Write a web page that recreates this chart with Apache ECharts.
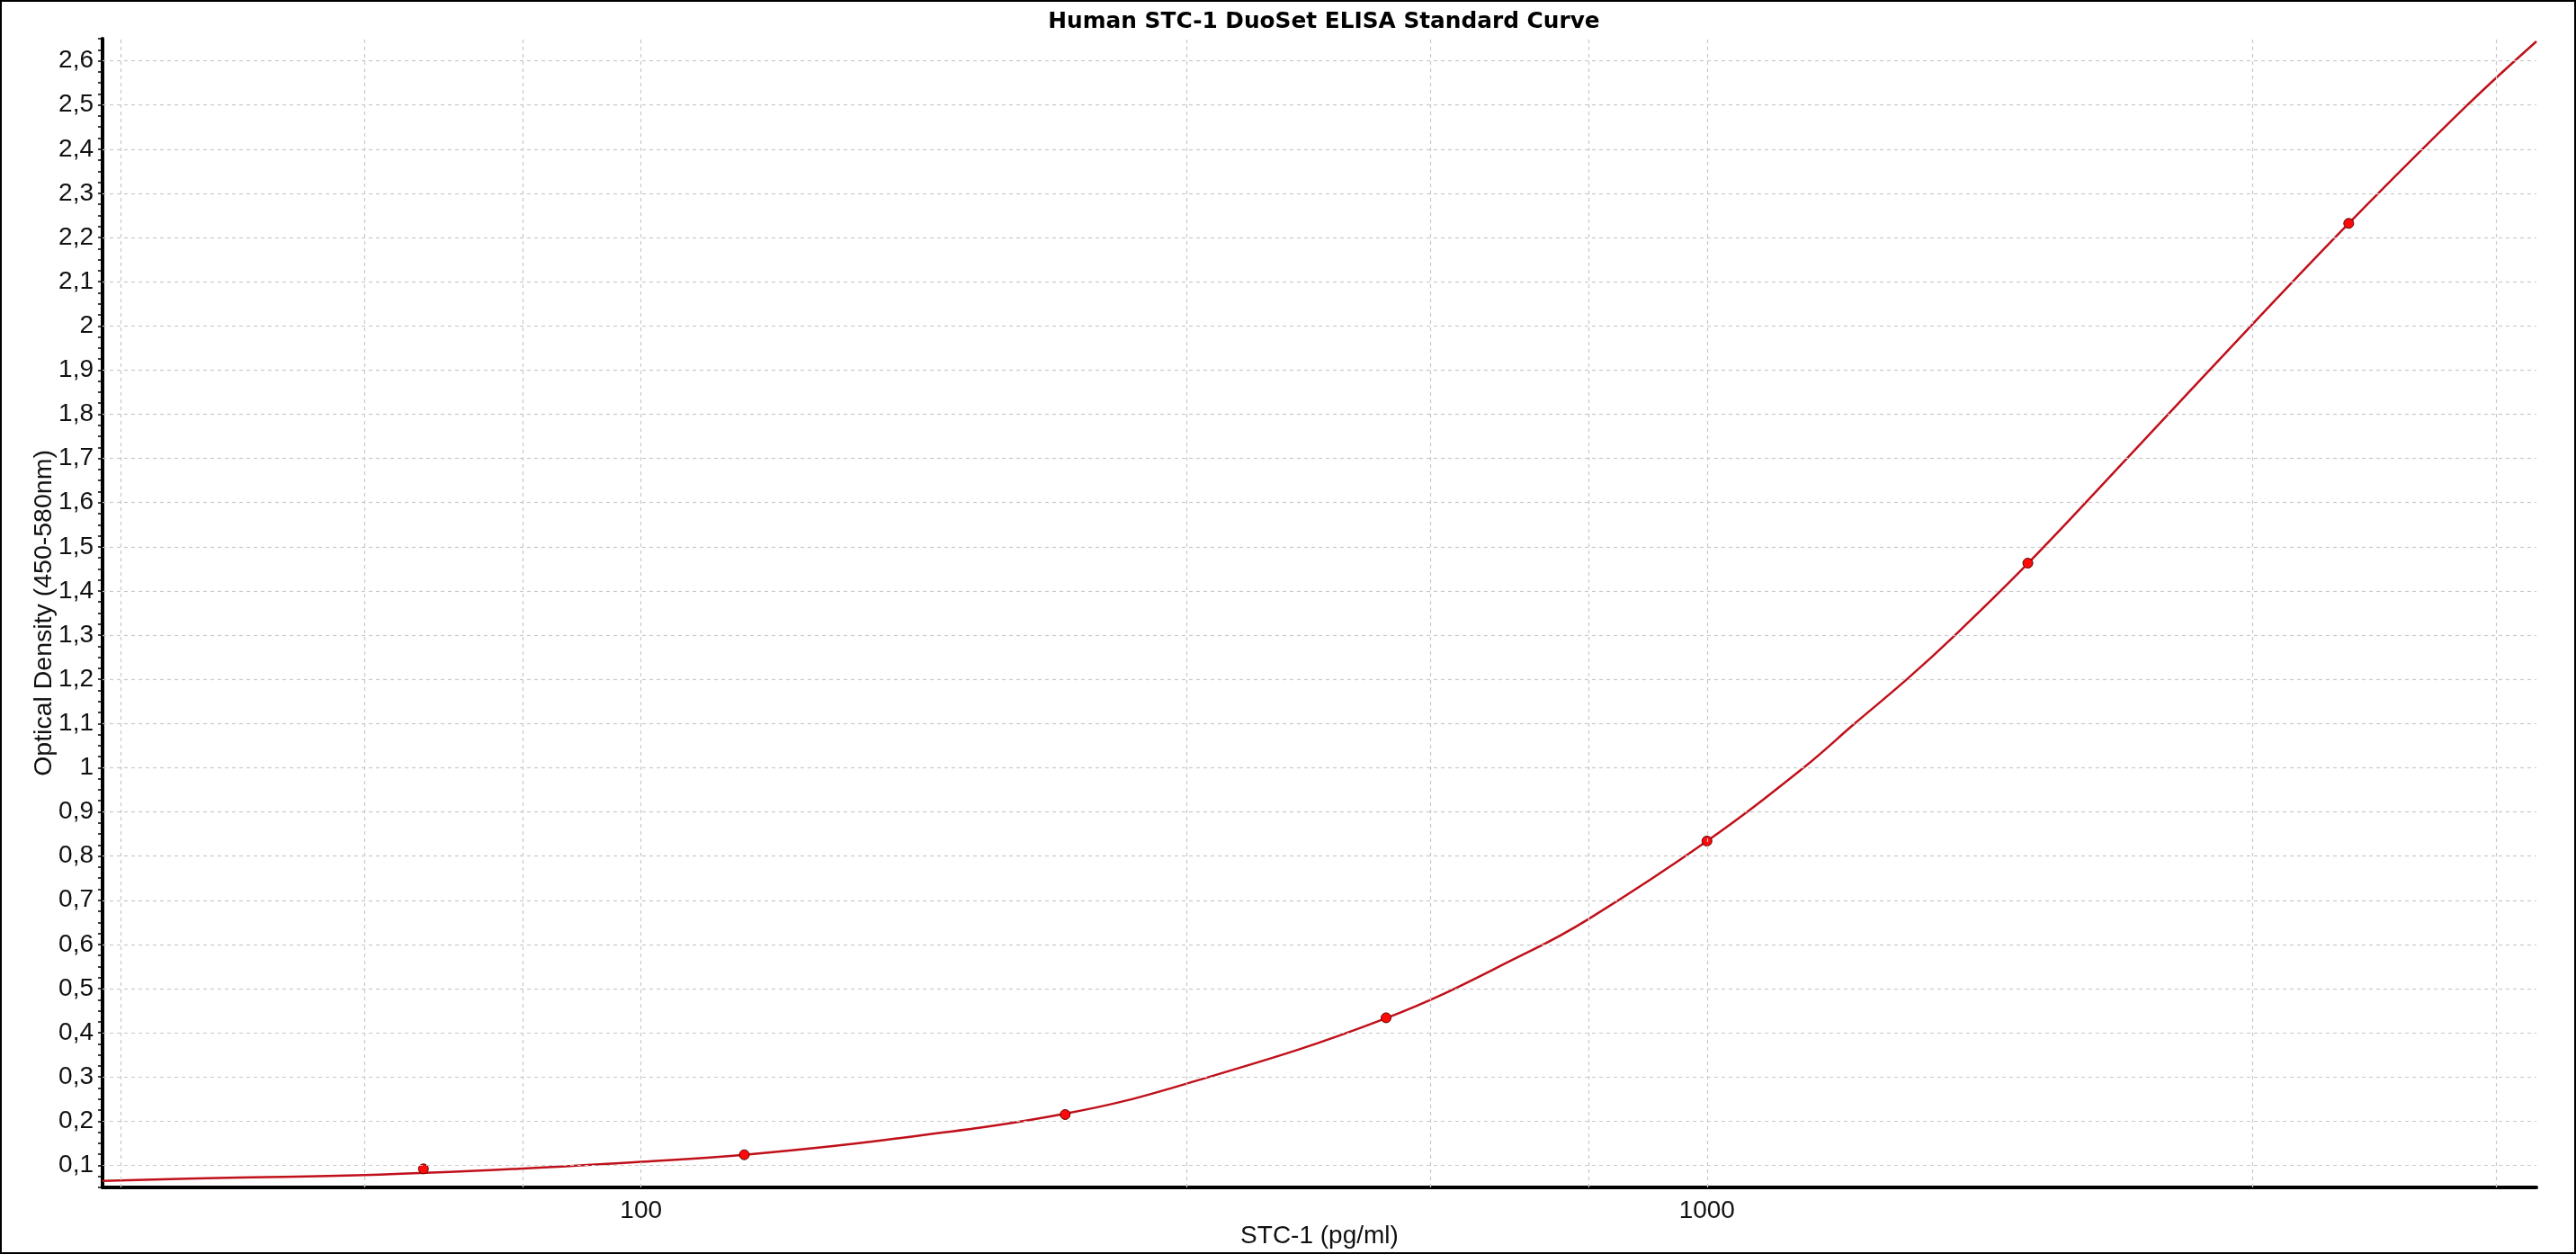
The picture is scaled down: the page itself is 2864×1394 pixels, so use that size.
<!DOCTYPE html>
<html>
<head>
<meta charset="utf-8">
<title>Human STC-1 DuoSet ELISA Standard Curve</title>
<script src="https://cdn.jsdelivr.net/npm/echarts@6/dist/echarts.min.js"></script>
<style>
  html, body { margin: 0; padding: 0; background: #fff; }
  #main { width: 2864px; height: 1394px; }
</style>
</head>
<body>
<div id="main"></div>
<script>
// standards (pg/ml) and measured OD
var stdConc = [62.5, 125, 250, 500, 1000, 2000, 4000];
var stdOD = [0.092, 0.124, 0.215, 0.434, 0.834, 1.463, 2.232];

// fitted curve
var fitConc = [31.25, 41, 55, 77.5, 100, 125, 170, 250, 325, 500, 681.5, 775, 1000, 1232, 1376, 1540, 1709, 2000, 2500, 3250, 4000, 5164, 6000];
var fitOD = [0.065, 0.072, 0.078, 0.093, 0.108, 0.124, 0.158, 0.217, 0.285, 0.433, 0.584, 0.658, 0.834, 1.0, 1.1, 1.2, 1.3, 1.462, 1.71, 2.004, 2.232, 2.499, 2.644];

// grid lines
var yGrid = [0.1, 0.2, 0.3, 0.4, 0.5, 0.6, 0.7, 0.8, 0.9, 1, 1.1, 1.2, 1.3, 1.4, 1.5, 1.6, 1.7, 1.8, 1.9, 2, 2.1, 2.2, 2.3, 2.4, 2.5, 2.6];
var xGrid = [32.5, 55, 77.5, 100, 325, 550, 775, 1000, 3250, 5500];

var chart = echarts.init(document.getElementById('main'));

function zip(a, b) {
  return a.map(function (v, i) { return [v, b[i]]; });
}

var gridLines = [];
yGrid.forEach(function (v) { gridLines.push({ yAxis: v }); });
xGrid.forEach(function (v) { gridLines.push({ xAxis: v }); });

var option = {
  animation: false,
  backgroundColor: '#fff',
  textStyle: { fontFamily: 'Liberation Sans, Arial, sans-serif', color: '#111' },
  title: {
    text: 'Human STC-1 DuoSet ELISA Standard Curve',
    left: 1467,
    textAlign: 'center',
    top: 7,
    textStyle: { fontFamily: 'DejaVu Sans', fontWeight: 'bold', fontSize: 24.8, color: '#000' }
  },
  grid: { left: 114, right: 44, top: 43, bottom: 74, containLabel: false },
  xAxis: {
    type: 'log',
    logBase: 10,
    min: 31.25,
    max: 6000,
    name: 'STC-1 (pg/ml)',
    nameLocation: 'middle',
    nameGap: 40,
    nameMoveOverlap: false,
    nameTextStyle: { fontSize: 28, color: '#111' },
    axisLine: { lineStyle: { color: '#000', width: 4 } },
    axisTick: { show: false },
    splitLine: { show: false },
    axisLabel: {
      fontSize: 28,
      color: '#111',
      margin: 12,
      showMinLabel: false,
      showMaxLabel: false,
      formatter: function (v) {
        var l = Math.log10(v);
        return Math.abs(l - Math.round(l)) < 1e-6 ? String(Math.round(v)) : '';
      }
    }
  },
  yAxis: {
    type: 'value',
    min: 0.05,
    max: 2.65,
    interval: 0.025,
    name: 'Optical Density (450-580nm)',
    nameLocation: 'middle',
    nameGap: 50,
    nameMoveOverlap: false,
    nameTextStyle: { fontSize: 28.5, color: '#111' },
    axisLine: { show: true, lineStyle: { color: '#000', width: 4 } },
    axisTick: { show: true, length: 5, lineStyle: { color: '#000', width: 1.5 } },
    splitLine: { show: false },
    axisLabel: {
      fontSize: 28,
      color: '#111',
      margin: 10,
      formatter: function (v) {
        var t = v * 10;
        if (Math.abs(t - Math.round(t)) > 1e-6 || v < 0.09 || v > 2.61) return '';
        return String(Math.round(t) / 10).replace('.', ',');
      }
    }
  },
  graphic: [{
    type: 'rect',
    shape: { x: 1, y: 1, width: 2862, height: 1392 },
    style: { fill: null, stroke: '#000', lineWidth: 2 },
    silent: true,
    z: 100
  }],
  series: [
    {
      name: 'grid',
      type: 'line',
      data: [],
      z: 1,
      silent: true,
      markLine: {
        silent: true,
        symbol: 'none',
        label: { show: false },
        lineStyle: { color: '#c8c8c8', type: [4, 4], width: 1.2 },
        data: gridLines
      }
    },
    {
      name: 'fit',
      type: 'line',
      data: zip(fitConc, fitOD),
      smooth: 0.4,
      showSymbol: false,
      z: 3,
      lineStyle: { color: '#c0101a', width: 2.5 }
    },
    {
      name: 'standards',
      type: 'scatter',
      data: zip(stdConc, stdOD),
      symbol: 'circle',
      symbolSize: 11,
      z: 4,
      itemStyle: { color: '#ff0a0a', borderColor: '#5a0000', borderWidth: 1, opacity: 1 }
    }
  ]
};

chart.setOption(option);
</script>
</body>
</html>
